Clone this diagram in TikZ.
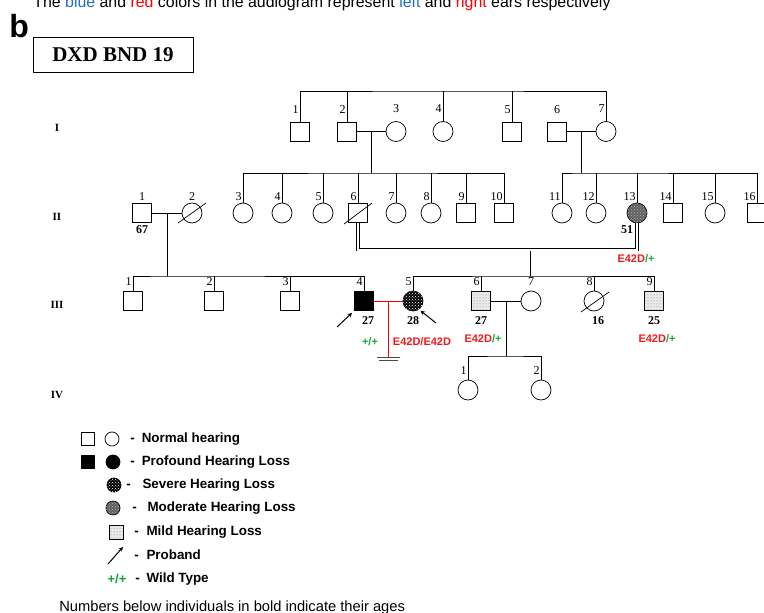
\documentclass[tikz,border=0pt]{standalone}
\usepackage{fontspec}
\setmainfont{Liberation Serif}
\newfontfamily\arialfont{Liberation Sans}
\usetikzlibrary{patterns,calc}
\begin{document}
\begin{tikzpicture}[x=1pt, y=-1pt, >=stealth, line width=0.7pt,
    male/.style={draw, rectangle, minimum size=19pt, inner sep=0pt},
    female/.style={draw, circle, minimum size=20pt, inner sep=0pt},
    num/.style={anchor=south east, inner sep=1pt, font=\fontsize{12}{12}\selectfont},
    numc/.style={num, anchor=south},
    age/.style={inner sep=1pt, font=\bfseries\fontsize{12}{12}\selectfont},
    geno/.style={inner sep=0pt, font=\arialfont\bfseries\fontsize{11}{11}\selectfont},
    gen/.style={font=\bfseries\fontsize{11}{11}\selectfont},
    profound/.style={fill=black},
    severe/.style={fill=black, postaction={pattern=crosshatch dots, pattern color=white}},
    moderate/.style={fill=black!62, postaction={pattern=crosshatch dots, pattern color=black!30}},
    mild/.style={fill=black!8, postaction={pattern=dots, pattern color=black!55}},
    proband/.style={->, line width=1pt},
    legtext/.style={anchor=west, inner sep=0pt, font=\arialfont\bfseries\fontsize{13.4}{13.4}\selectfont}]
    % Colours of the genotypes and of the caption
    \definecolor{gtred}{RGB}{240, 25, 30}
    \definecolor{gtgreen}{RGB}{25, 165, 60}
    \definecolor{capblue}{RGB}{30, 110, 200}

    \useasboundingbox (0,0) rectangle (764,613);

    % Caption line (cut at the top) and panel letter
    \node[anchor=base west, inner sep=0pt, font=\arialfont\fontsize{15.9}{15.9}\selectfont] (caption) at (33,8)
        {The \textcolor{capblue}{blue} and \textcolor{red}{red} colors in the audiogram represent \textcolor{capblue}{left} and \textcolor{red}{right} ears respectively};
    \node[anchor=base west, inner sep=0pt, font=\arialfont\bfseries\fontsize{32}{32}\selectfont] (panel) at (9,37) {b};

    % Family name
    \node[draw, line width=1pt, minimum width=160pt, minimum height=35pt, font=\bfseries\fontsize{21}{21}\selectfont] (title) at (113,54.5) {DXD BND 19};

    % Generation numbers
    \node[gen] (gI) at (57,128) {I};
    \node[gen] (gII) at (57,217) {II};
    \node[gen] (gIII) at (57,305) {III};
    \node[gen] (gIV) at (57,395) {IV};

    % Rows of the sibship lines
    \coordinate (rowI) at (0,91);
    \coordinate (rowII) at (0,173);
    \coordinate (rowIII) at (0,276);
    \coordinate (rowIV) at (0,356);

    % Generation I
    \begin{scope}[label distance=7pt]
        \node[male, label={[num]north:1}] (I1) at (300,131.5) {};
        \node[male, label={[num]north:2}] (I2) at (347,131.5) {};
        \node[female, label={[numc]north:3}] (I3) at (396,131.5) {};
        \node[female, label={[num]north:4}] (I4) at (443,131.5) {};
        \node[male, label={[num]north:5}] (I5) at (512,131.5) {};
        \node[male, label={[numc]north:6}] (I6) at (557,131.5) {};
        \node[female, label={[num]north:7}] (I7) at (606,131.5) {};
    \end{scope}
    \draw (I1.north) |- (I4.north |- rowI) -| (I7.north);
    \foreach \n in {2,4,5}
        \draw (I\n.north) -- (I\n.north |- rowI);
    \draw (I2) -- (I3);
    \draw (I6) -- (I7);
    \coordinate (mI23) at ($(I2)!0.5!(I3)$);
    \coordinate (mI67) at ($(I6)!0.5!(I7)$);

    % Generation II
    \begin{scope}[label distance=1pt]
        \node[male, label={[numc]north:1}, label={[age]below:67}] (II1) at (142,213) {};
        \node[female, label={[numc]north:2}] (II2) at (192,213) {};
        \node[female, label={[num]north:3}] (II3) at (243,213) {};
        \node[female, label={[num]north:4}] (II4) at (282,213) {};
        \node[female, label={[num]north:5}] (II5) at (323,213) {};
        \node[male, label={[num]north:6}] (II6) at (358,213) {};
        \node[female, label={[num]north:7}] (II7) at (396,213) {};
        \node[female, label={[num]north:8}] (II8) at (431,213) {};
        \node[male, label={[num]north:9}] (II9) at (466,213) {};
        \node[male, label={[num]north:10}] (II10) at (504,213) {};
        \node[female, label={[num]north:11}] (II11) at (562,213) {};
        \node[female, label={[num]north:12}] (II12) at (596,213) {};
        \node[female, moderate, label={[num]north:13}, label={[age, xshift=-10pt]below:51}] (II13) at (637,213) {};
        \node[male, label={[num]north:14}] (II14) at (673,213) {};
        \node[female, label={[num]north:15}] (II15) at (715,213) {};
        \node[male, label={[num]north:16}] (II16) at (757,213) {};
    \end{scope}
    \draw (mI23) -- (mI23 |- rowII);
    \draw (mI67) -- (mI67 |- rowII);
    \draw (II3.north) |- (mI23 |- rowII) -| (II10.north);
    \foreach \n in {4,...,9}
        \draw (II\n.north) -- (II\n.north |- rowII);
    \draw (II11.north) |- (mI67 |- rowII) -| (II16.north);
    \foreach \n in {12,...,15}
        \draw (II\n.north) -- (II\n.north |- rowII);
    % deceased
    \draw ([shift={(-14,10)}]II2.center) -- ([shift={(14,-10)}]II2.center);
    \draw ([shift={(-14,11)}]II6.center) -- ([shift={(14,-10)}]II6.center);
    \draw (II1) -- (II2);
    \coordinate (mII12) at ($(II1)!0.5!(II2)$);
    % consanguineous mating
    \coordinate (cons) at (530,249.5);
    \draw[double, double distance=2pt, line width=0.6pt] (II6.south) |- (cons) -| (II13.south);
    \draw (cons |- 0,251) -- (cons |- rowIII);
    \node[geno] (gII13) at (636,259) {\textcolor{gtred}{E42D}\textcolor{gtgreen}{/+}};

    % Generation III
    \begin{scope}[label distance=4pt]
        \node[male, label={[num]north:1}] (III1) at (133,301) {};
        \node[male, label={[num]north:2}] (III2) at (214,301) {};
        \node[male, label={[num]north:3}] (III3) at (290,301) {};
        \node[male, profound, label={[num]north:4}, label={[age, xshift=4pt]below:27}] (III4) at (364,301) {};
        \node[female, severe, label={[num]north:5}, label={[age]below:28}] (III5) at (413,301) {};
        \node[male, mild, label={[num]north:6}, label={[age]below:27}] (III6) at (481,301) {};
        \node[female, label={[numc]north:7}] (III7) at (531,301) {};
        \node[female, label={[num]north:8}, label={[age, xshift=4pt]below:16}] (III8) at (594,301) {};
        \node[male, mild, label={[num]north:9}, label={[age]below:25}] (III9) at (654,301) {};
    \end{scope}
    \draw (mII12) -- (mII12 |- rowIII);
    \draw (III1.north) |- (mII12 |- rowIII) -| (III4.north);
    \foreach \n in {2,3}
        \draw (III\n.north) -- (III\n.north |- rowIII);
    \draw (III5.north) |- (cons |- rowIII) -| (III9.north);
    \foreach \n in {6,8}
        \draw (III\n.north) -- (III\n.north |- rowIII);
    \draw ([shift={(-13,11)}]III8.center) -- ([shift={(15,-9)}]III8.center);
    % couple without children
    \draw[red] (III4) -- (III5);
    \coordinate (mIII45) at ($(III4)!0.5!(III5)$);
    \coordinate (nochild) at ($(mIII45)+(0,56)$);
    \draw[red] (mIII45) -- (nochild);
    \draw[black!70] ([xshift=-11.5pt]nochild) -- ([xshift=11.5pt]nochild);
    \draw[black!70] ([xshift=-9.5pt, yshift=-3pt]nochild) -- ([xshift=9.5pt, yshift=-3pt]nochild);
    \draw (III6) -- (III7);
    \coordinate (mIII67) at ($(III6)!0.5!(III7)$);
    % probands
    \coordinate (pbA) at (337,327);
    \coordinate (pbB) at (436,323);
    \draw[proband, shorten >=3pt] (pbA) -- (III4.south west);
    \draw[proband, shorten >=2pt] (pbB) -- (III5.-55);
    % genotypes
    \node[geno, text=gtgreen] (gIII4) at (370,342) {+/+};
    \node[geno, text=gtred] (gIII5) at (422,342) {E42D/E42D};
    \node[geno] (gIII6) at (483,339) {\textcolor{gtred}{E42D}\textcolor{gtgreen}{/+}};
    \node[geno] (gIII9) at (657,339) {\textcolor{gtred}{E42D}\textcolor{gtgreen}{/+}};

    % Generation IV
    \begin{scope}[label distance=4pt]
        \node[female, label={[num]north:1}] (IV1) at (468,390) {};
        \node[female, label={[num]north:2}] (IV2) at (541,390) {};
    \end{scope}
    \draw (mIII67) -- (mIII67 |- rowIV);
    \draw (IV1.north) |- (mIII67 |- rowIV) -| (IV2.north);

    % Legend
    \node[male, minimum size=13pt] (kNs) at (87.5,439) {};
    \node[female, minimum size=14pt] (kNc) at (112,439) {};
    \node[legtext] (kN) at (130,439) {-\hspace{7pt}Normal hearing};
    \node[male, profound, minimum size=13pt] (kPs) at (87.5,462) {};
    \node[female, profound, minimum size=14pt] (kPc) at (113,462) {};
    \node[legtext] (kP) at (130,462) {-\hspace{7pt}Profound Hearing Loss};
    \node[female, severe, minimum size=14pt] (kSc) at (114,485) {};
    \node[legtext] (kS) at (126,485) {-\hspace{11.7pt}Severe Hearing Loss};
    \node[female, moderate, minimum size=14pt] (kMc) at (113,508) {};
    \node[legtext] (kM) at (132,508) {-\hspace{10.7pt}Moderate Hearing Loss};
    \node[male, mild, minimum size=14pt] (kLs) at (116,532) {};
    \node[legtext] (kL) at (134,532) {-\hspace{7.7pt}Mild Hearing Loss};
    \coordinate (kAa) at (108,564);
    \coordinate (kAb) at (123,547);
    \draw[proband] (kAa) -- (kAb);
    \node[legtext] (kA) at (134,555) {-\hspace{7.7pt}Proband};
    \node[geno, text=gtgreen, font=\arialfont\bfseries\fontsize{13}{13}\selectfont] (kW) at (117,579) {+/+};
    \node[legtext] (kWt) at (135,579) {-\hspace{6.7pt}Wild Type};

    % Note on the ages
    \node[anchor=base west, inner sep=0pt, font=\arialfont\fontsize{14.7}{14.7}\selectfont] (note) at (59,611)
        {Numbers below individuals in bold indicate their ages};
\end{tikzpicture}
\end{document}
